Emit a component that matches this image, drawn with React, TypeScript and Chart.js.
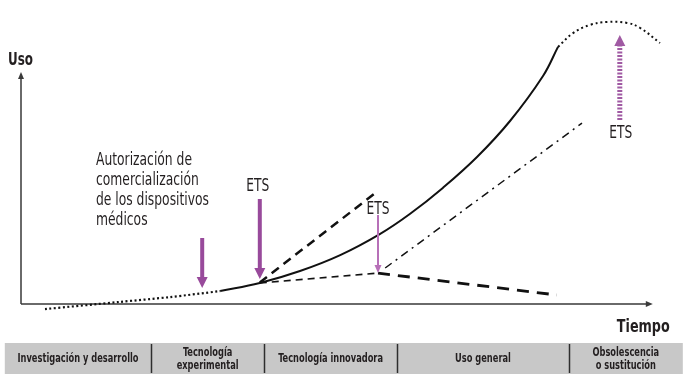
import React, { useEffect, useRef } from "react";
import { Chart, registerables } from "chart.js";
Chart.register(...registerables);

// ---- data (time units on x, use units on y) ----
const earlyX = [4, 16.5, 24.8, 33.2];
const earlyY = [-1.7, 0.7, 2.3, 4.3];

const solidX = [33.2, 39.8, 46.5, 53.2, 59.8, 64.8, 70.3, 76, 81.5, 87, 89.5];
const solidY = [4.3, 7, 11, 16.3, 23.3, 30, 38.7, 49, 61, 76, 85.7];

const lateX = [89.5, 92, 94.8, 97.7, 101, 103.2, 106.5];
const lateY = [85.7, 90.3, 93, 94, 93.7, 92, 87];

const upperDashX = [39.8, 59.5];
const upperDashY = [7.2, 37.7];

const lowerThinX = [39.8, 59.5];
const lowerThinY = [7, 10.3];

const lowerBoldX = [59.5, 89.3];
const lowerBoldY = [10.3, 3];

const dashDotX = [60.7, 93.5];
const dashDotY = [12, 60.3];

// arrows: x, from y, to y
const arrowX = [30.2, 39.8, 59.5, 99.8];
const arrowFrom = [22, 35, 29.7, 61.3];
const arrowTo = [5.3, 8.3, 10.3, 89.7];

const authLines = ["Autorización de", "comercialización", "de los dispositivos", "médicos"];
const etsLabel = "ETS";
const yAxisTitle = "Uso";
const xAxisTitle = "Tiempo";

const phaseLabels = [
  "Investigación y desarrollo",
  "Tecnología\nexperimental",
  "Tecnología innovadora",
  "Uso general",
  "Obsolescencia\no sustitución",
];
const phaseBounds = [-2.7, 21.7, 40.5, 62.7, 91.3, 110.3];

const X_MIN = 0, X_MAX = 110, Y_MIN = -10, Y_MAX = 100;
const AXIS_X_END = 105.3;
const AXIS_Y_END = 77.3;

const FONT = '"DejaVu Sans Condensed", "DejaVu Sans", sans-serif';
const TEXT = "#231f20";

const zip = (xs: number[], ys: number[]) => xs.map((x, i) => ({ x, y: ys[i] }));

function drawArrow(ctx: CanvasRenderingContext2D, x: number, y0: number, y1: number, color: string, shaftW: number, headW: number, headL: number, dash?: number[]) {
  const dir = Math.sign(y1 - y0);
  ctx.save();
  ctx.strokeStyle = color;
  ctx.lineWidth = shaftW;
  ctx.lineCap = "butt";
  if (dash) ctx.setLineDash(dash);
  ctx.beginPath();
  ctx.moveTo(x, y0);
  ctx.lineTo(x, y1 - dir * headL);
  ctx.stroke();
  ctx.setLineDash([]);
  ctx.fillStyle = color;
  ctx.beginPath();
  ctx.moveTo(x, y1);
  ctx.lineTo(x - headW / 2, y1 - dir * headL);
  ctx.lineTo(x + headW / 2, y1 - dir * headL);
  ctx.closePath();
  ctx.fill();
  ctx.restore();
}

// draw text squeezed horizontally by sx
function sText(ctx: CanvasRenderingContext2D, text: string, x: number, y: number, sx: number, align: CanvasTextAlign) {
  ctx.save();
  ctx.textAlign = align;
  ctx.translate(x, y);
  ctx.scale(sx, 1);
  ctx.fillText(text, 0, 0);
  ctx.restore();
}

const overlayPlugin = {
  id: "overlay",
  beforeDatasetsDraw(chart: any) {
    const { ctx, scales } = chart;
    const x = scales.x, y = scales.y;
    const x0 = x.getPixelForValue(0);
    const y0 = y.getPixelForValue(0);
    const xe = x.getPixelForValue(AXIS_X_END);
    const ye = y.getPixelForValue(AXIS_Y_END);
    ctx.save();
    ctx.strokeStyle = "#3a3a3a";
    ctx.fillStyle = "#3a3a3a";
    ctx.lineWidth = 1.5;
    ctx.beginPath();
    ctx.moveTo(x0, y0);
    ctx.lineTo(xe - 5, y0);
    ctx.moveTo(x0, y0);
    ctx.lineTo(x0, ye + 5);
    ctx.stroke();
    ctx.beginPath();
    ctx.moveTo(xe, y0);
    ctx.lineTo(xe - 7, y0 - 3);
    ctx.lineTo(xe - 7, y0 + 3);
    ctx.closePath();
    ctx.fill();
    ctx.beginPath();
    ctx.moveTo(x0, ye);
    ctx.lineTo(x0 - 3, ye + 7);
    ctx.lineTo(x0 + 3, ye + 7);
    ctx.closePath();
    ctx.fill();
    ctx.restore();
  },
  afterDatasetsDraw(chart: any) {
    const { ctx, scales, chartArea } = chart;
    const x = scales.x, y = scales.y;
    const px = (v: number) => x.getPixelForValue(v);
    const py = (v: number) => y.getPixelForValue(v);

    // arrows
    const colors = ["#984a9b", "#984a9b", "#b770b8", "#a05aa3"];
    const shafts = [4, 4, 2, 5];
    const heads = [11, 11, 7, 11];
    const headLs = [11, 11, 8, 11];
    for (let i = 0; i < arrowX.length; i++) {
      drawArrow(ctx, px(arrowX[i]), py(arrowFrom[i]), py(arrowTo[i]), colors[i], shafts[i], heads[i], headLs[i], i === 3 ? [2, 1.5] : undefined);
    }

    ctx.save();
    ctx.fillStyle = TEXT;
    ctx.textBaseline = "middle";

    // ETS labels
    ctx.font = `17px ${FONT}`;
    const etsS = 23 / ctx.measureText(etsLabel).width;
    sText(ctx, etsLabel, px(arrowX[1]) - 2, py(arrowFrom[1]) - 12, etsS, "center");
    sText(ctx, etsLabel, px(arrowX[2]), py(arrowFrom[2]) - 5, etsS, "center");
    sText(ctx, etsLabel, px(arrowX[3]) + 1, py(arrowFrom[3]) + 13, etsS, "center");

    // authorization text
    ctx.font = `18px ${FONT}`;
    const authS = 113 / ctx.measureText(authLines[2]).width;
    const ax = px(12.5);
    authLines.forEach((l, i) => sText(ctx, l, ax, py(48) + i * 20, authS, "left"));

    // axis titles
    ctx.font = `bold 17px ${FONT}`;
    const usoS = 25 / ctx.measureText(yAxisTitle).width;
    sText(ctx, yAxisTitle, px(0) - 13, py(81), usoS, "left");
    const tS = 53 / ctx.measureText(xAxisTitle).width;
    sText(ctx, xAxisTitle, px(AXIS_X_END) + 17, py(-7.7), tS, "right");

    // phase band
    const bandTop = chartArea.bottom + 9;
    const bandH = 31;
    const bx0 = px(phaseBounds[0]);
    const bx1 = px(phaseBounds[phaseBounds.length - 1]);
    ctx.fillStyle = "#c8c8c8";
    ctx.fillRect(bx0, bandTop, bx1 - bx0, bandH);
    ctx.strokeStyle = "#2e2e2e";
    ctx.lineWidth = 1.5;
    for (let i = 1; i < phaseBounds.length - 1; i++) {
      const sx = Math.round(px(phaseBounds[i])) + 0.5;
      ctx.beginPath();
      ctx.moveTo(sx, bandTop + 1);
      ctx.lineTo(sx, bandTop + bandH - 1);
      ctx.stroke();
    }
    ctx.fillStyle = TEXT;
    ctx.font = `bold 12.5px ${FONT}`;
    const bandS = 121 / ctx.measureText(phaseLabels[0]).width;
    phaseLabels.forEach((lab, i) => {
      const cx = (px(phaseBounds[i]) + px(phaseBounds[i + 1])) / 2;
      const lines = lab.split("\n");
      const cy = bandTop + bandH / 2 + 0.5;
      lines.forEach((l, j) => {
        sText(ctx, l, cx, cy + (j - (lines.length - 1) / 2) * 13, bandS, "center");
      });
    });
    ctx.restore();
  },
};

export default function App() {
  const ref = useRef<HTMLCanvasElement | null>(null);
  useEffect(() => {
    if (!ref.current) return;
    const base = { showLine: true, pointRadius: 0, fill: false, borderColor: "#111", clip: false as any };
    const chart = new Chart(ref.current, {
      type: "scatter",
      data: {
        datasets: [
          { ...base, data: zip(earlyX, earlyY), borderWidth: 2.2, borderDash: [2, 2.5], tension: 0.3 },
          { ...base, data: zip(solidX, solidY), borderWidth: 2, tension: 0.4 },
          { ...base, data: zip(lateX, lateY), borderWidth: 2, borderDash: [2, 3], tension: 0.4 },
          { ...base, data: zip(upperDashX, upperDashY), borderWidth: 2.5, borderDash: [9, 6] },
          { ...base, data: zip(lowerThinX, lowerThinY), borderWidth: 1.6, borderDash: [7, 5] },
          { ...base, data: zip(lowerBoldX, lowerBoldY), borderWidth: 2.8, borderDash: [12, 8] },
          { ...base, data: zip(dashDotX, dashDotY), borderWidth: 1.5, borderDash: [8, 5, 2, 5] },
        ] as any,
      },
      options: {
        animation: false,
        responsive: false,
        maintainAspectRatio: false,
        layout: { padding: { left: 21, right: 13, top: 4, bottom: 49 } },
        scales: {
          x: { type: "linear", min: X_MIN, max: X_MAX, display: false },
          y: { type: "linear", min: Y_MIN, max: Y_MAX, display: false },
        },
        plugins: { legend: { display: false }, tooltip: { enabled: false } },
        events: [],
      },
      plugins: [overlayPlugin],
    });
    return () => chart.destroy();
  }, []);
  return (
    <div style={{ position: "fixed", left: 0, top: 0, width: 694, height: 383, background: "#fff" }}>
      <canvas ref={ref} width={694} height={383} style={{ width: 694, height: 383, display: "block" }} />
    </div>
  );
}
